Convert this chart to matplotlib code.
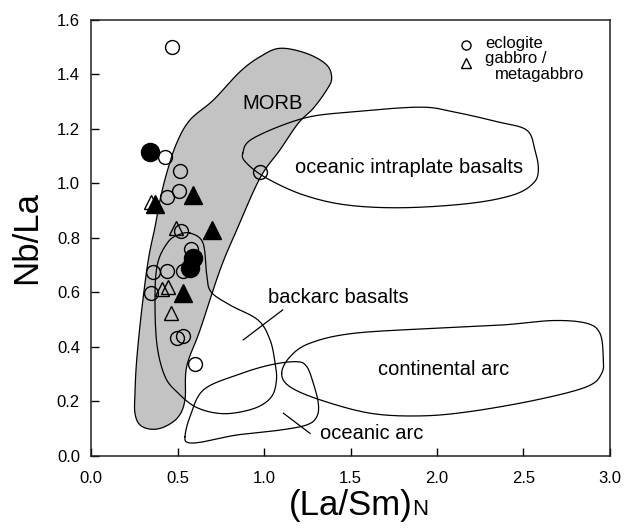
import matplotlib.pyplot as plt
import numpy as np

plt.rcParams['font.family'] = ['Liberation Sans', 'DejaVu Sans']

# Sample data: (La/Sm)N vs Nb/La
ecl_x = [0.466, 0.428, 0.514, 0.977, 0.509, 0.437, 0.520, 0.576, 0.530,
         0.441, 0.357, 0.347, 0.499, 0.534, 0.601]
ecl_y = [1.500, 1.096, 1.046, 1.043, 0.974, 0.952, 0.826, 0.760, 0.680,
         0.680, 0.674, 0.597, 0.434, 0.440, 0.336]

ecl_fill_x = [0.341, 0.588, 0.572]
ecl_fill_y = [1.117, 0.725, 0.690]

gab_x = [0.345, 0.490, 0.447, 0.412, 0.461]
gab_y = [0.933, 0.835, 0.621, 0.614, 0.524]

gab_fill_x = [0.591, 0.368, 0.698, 0.534]
gab_fill_y = [0.958, 0.925, 0.829, 0.597]

# Field outlines (vertices of the tectonic discrimination fields)
morb = [(1.092, 1.496), (1.247, 1.477), (1.362, 1.435), (1.391, 1.386), (1.362, 1.343),
        (1.285, 1.276), (1.198, 1.221), (1.092, 1.123), (0.977, 1.020), (0.842, 0.829),
        (0.746, 0.683), (0.630, 0.462), (0.553, 0.328), (0.543, 0.206), (0.505, 0.144),
        (0.428, 0.108), (0.351, 0.098), (0.283, 0.114), (0.254, 0.157), (0.254, 0.230),
        (0.264, 0.352), (0.293, 0.536), (0.331, 0.719), (0.370, 0.841), (0.399, 0.939),
        (0.437, 1.037), (0.495, 1.148), (0.572, 1.233), (0.707, 1.306), (0.861, 1.410),
        (0.977, 1.465)]

intraplate = [(0.877, 1.111), (0.938, 1.166), (1.227, 1.239), (1.516, 1.263), (1.902, 1.280),
              (2.094, 1.263), (2.345, 1.227), (2.518, 1.196), (2.566, 1.123), (2.586, 1.050),
              (2.557, 1.001), (2.441, 0.958), (2.191, 0.927), (1.805, 0.911), (1.478, 0.921),
              (1.227, 0.958), (1.016, 1.019), (0.900, 1.074)]

cont_arc = [(1.102, 0.303), (1.150, 0.364), (1.266, 0.414), (1.516, 0.450), (1.998, 0.469),
            (2.383, 0.481), (2.672, 0.497), (2.865, 0.487), (2.942, 0.450), (2.961, 0.364),
            (2.952, 0.303), (2.865, 0.254), (2.576, 0.206), (2.191, 0.163), (1.902, 0.147),
            (1.613, 0.157), (1.324, 0.206), (1.150, 0.254)]

ocean_arc = [(0.543, 0.071), (0.572, 0.144), (0.649, 0.242), (0.842, 0.297), (1.035, 0.334),
             (1.189, 0.346), (1.247, 0.328), (1.285, 0.267), (1.314, 0.193), (1.305, 0.144),
             (1.247, 0.114), (1.092, 0.095), (0.842, 0.077), (0.649, 0.052), (0.562, 0.049)]

backarc = [(0.572, 0.818), (0.647, 0.782), (0.669, 0.664), (0.694, 0.602), (0.803, 0.554),
           (0.965, 0.499), (1.035, 0.426), (1.064, 0.341), (1.072, 0.279), (1.046, 0.220),
           (0.965, 0.180), (0.832, 0.158), (0.717, 0.158), (0.601, 0.181), (0.505, 0.230),
           (0.428, 0.291), (0.380, 0.414), (0.370, 0.598), (0.387, 0.712), (0.445, 0.785),
           (0.503, 0.811)]


def smooth_closed(pts, n=16):
    # closed Catmull-Rom curve through the outline vertices
    p = np.asarray(pts, dtype=float)
    N = len(p)
    t = np.linspace(0, 1, n, endpoint=False)[:, None]
    segs = []
    for i in range(N):
        p0, p1, p2, p3 = p[i - 1], p[i], p[(i + 1) % N], p[(i + 2) % N]
        segs.append(0.5 * (2 * p1 + (-p0 + p2) * t
                           + (2 * p0 - 5 * p1 + 4 * p2 - p3) * t ** 2
                           + (-p0 + 3 * p1 - 3 * p2 + p3) * t ** 3))
    c = np.vstack(segs)
    return np.vstack([c, c[:1]])


fig = plt.figure(figsize=(6.37, 5.28), dpi=100)
ax = fig.add_axes([0.1429, 0.1364, 0.8147, 0.8258])

m = smooth_closed(morb)
ax.fill(m[:, 0], m[:, 1], facecolor='#c3c3c3', edgecolor='black', linewidth=0.9, zorder=1)
for field in (intraplate, cont_arc, ocean_arc, backarc):
    f = smooth_closed(field)
    ax.plot(f[:, 0], f[:, 1], color='black', linewidth=0.9, zorder=2)

# leader lines
ax.plot([1.108, 0.880], [0.536, 0.426], color='black', linewidth=0.9, zorder=2)
ax.plot([1.112, 1.266], [0.157, 0.083], color='black', linewidth=0.9, zorder=2)

lbl = dict(fontsize=14.5, color='black', ha='center', va='center', zorder=3)
ax.text(1.050, 1.294, 'MORB', **lbl)
ax.text(1.840, 1.058, 'oceanic intraplate basalts', **lbl)
ax.text(1.428, 0.582, 'backarc basalts', **lbl)
ax.text(2.040, 0.316, 'continental arc', **lbl)
ax.text(1.624, 0.081, 'oceanic arc', **lbl)

# samples
ax.plot(ecl_x, ecl_y, 'o', ms=10, mfc='none', mec='black', mew=1.0, zorder=4)
ax.plot(gab_x, gab_y, '^', ms=10, mfc='none', mec='black', mew=1.0, zorder=4)
ax.plot(gab_fill_x, gab_fill_y, '^', ms=13, mfc='black', mec='black', zorder=5)
ax.plot(ecl_fill_x, ecl_fill_y, 'o', ms=13, mfc='black', mec='black', zorder=5)

# key
ax.plot([0.7225], [0.943], 'o', ms=6.5, mfc='none', mec='black', mew=1.0, transform=ax.transAxes)
ax.plot([0.7225], [0.902], '^', ms=6.5, mfc='none', mec='black', mew=1.0, transform=ax.transAxes)
ax.text(0.759, 0.945, 'eclogite', fontsize=12, va='center', transform=ax.transAxes)
ax.text(0.759, 0.912, 'gabbro /', fontsize=12, va='center', transform=ax.transAxes)
ax.text(0.778, 0.874, 'metagabbro', fontsize=12, va='center', transform=ax.transAxes)

ax.set_xlim(0, 3.0)
ax.set_ylim(0, 1.6)
ax.set_xticks(np.arange(0, 3.01, 0.5))
ax.set_yticks(np.arange(0, 1.61, 0.2))
ax.set_xticklabels([f'{v:.1f}' for v in np.arange(0, 3.01, 0.5)])
ax.set_yticklabels([f'{v:.1f}' for v in np.arange(0, 1.61, 0.2)])
ax.tick_params(direction='in', length=6, width=1.0, labelsize=12)
ax.tick_params(axis='x', pad=11)
ax.tick_params(axis='y', pad=8)
for s in ax.spines.values():
    s.set_linewidth(1.1)
    s.set_color('#222222')

ax.set_ylabel('Nb/La', fontsize=25, labelpad=10)
xl = ax.set_xlabel('(La/Sm)', fontsize=25, labelpad=2)
ax.annotate('N', xy=(1, 0), xycoords=xl, xytext=(0, 5), textcoords='offset points',
            fontsize=16, ha='left', va='baseline')

fig.savefig('out.png', dpi=100)
